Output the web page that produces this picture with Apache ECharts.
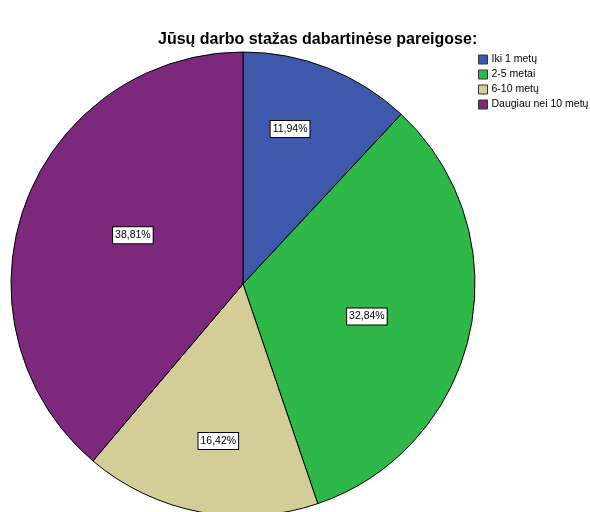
<!DOCTYPE html>
<html>
<head>
<meta charset="utf-8">
<script src="https://cdn.jsdelivr.net/npm/echarts@6/dist/echarts.min.js"></script>
<style>
  html, body { margin: 0; padding: 0; background: #fff; }
  #chart { width: 590px; height: 512px; }
</style>
</head>
<body>
<div id="chart"></div>
<script>
// Work experience in current position, share of respondents (%)
const categories = ['Iki 1 metų', '2-5 metai', '6-10 metų', 'Daugiau nei 10 metų'];
const shares = [11.94, 32.84, 16.42, 38.81];
const sliceColors = ['#3e58ac', '#2eb848', '#d3ce97', '#7c287d'];
// label placement: distance from the centre as a fraction of the radius,
// and a small turn (degrees) away from the slice's middle angle
const labelRadius = [0.698, 0.552, 0.685, 0.519];
const labelTurn = [-4.6, 2.6, -1.8, 3.7];

const cx = 243, cy = 284, R = 232;
const total = shares.reduce((a, b) => a + b, 0);
const font = 'Liberation Sans, Arial, sans-serif';

function labelPos(i) {
  let before = 0;
  for (let k = 0; k < i; k++) before += shares[k];
  const mid = (before + shares[i] / 2) / total * 2 * Math.PI + labelTurn[i] * Math.PI / 180; // clockwise from top
  const r = R * labelRadius[i];
  return { x: cx + r * Math.sin(mid), y: cy - r * Math.cos(mid) };
}

const chart = echarts.init(document.getElementById('chart'), null, { renderer: 'canvas' });
chart.setOption({
  animation: false,
  backgroundColor: '#ffffff',
  title: {
    text: 'Jūsų darbo stažas dabartinėse pareigose:',
    left: 153,
    top: 27,
    textStyle: { fontFamily: font, fontSize: 16, fontWeight: 'bold', color: '#000' }
  },
  legend: {
    orient: 'vertical',
    left: 478,
    top: 54,
    padding: 0,
    itemWidth: 9,
    itemHeight: 9,
    itemGap: 4,
    icon: 'rect',
    itemStyle: { borderColor: '#333', borderWidth: 1 },
    textStyle: { fontFamily: font, fontSize: 10.5, color: '#000', padding: [0, 0, 0, -1] },
    data: categories
  },
  color: sliceColors,
  series: [{
    type: 'pie',
    center: [cx, cy],
    radius: R,
    startAngle: 90,
    clockwise: true,
    avoidLabelOverlap: false,
    itemStyle: { borderColor: '#000', borderWidth: 1 },
    label: {
      show: true,
      position: 'inside',
      formatter: p => p.value.toFixed(2).replace('.', ',') + '%',
      fontFamily: font,
      fontSize: 10.5,
      color: '#000',
      backgroundColor: '#fff',
      borderColor: '#000',
      borderWidth: 1,
      padding: [3, 2, 2, 2]
    },
    labelLayout: p => {
      const pos = labelPos(p.dataIndex);
      return { x: pos.x, y: pos.y, align: 'center', verticalAlign: 'middle' };
    },
    labelLine: { show: false },
    emphasis: { disabled: true },
    data: categories.map((name, i) => ({ name, value: shares[i] }))
  }]
});
</script>
</body>
</html>
